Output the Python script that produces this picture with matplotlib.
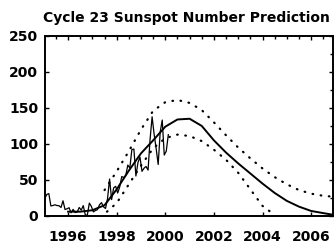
import matplotlib
matplotlib.use("Agg")
import matplotlib.pyplot as plt
from matplotlib.ticker import MultipleLocator

# Observed monthly sunspot numbers, Jan 1995 .. Feb 2000
obs_start = 1995.04
observed = [
    24.2, 29.9, 31.1, 14.0, 14.5, 15.6, 14.5, 14.3, 11.8, 21.1, 9.0, 10.0,
    11.5, 4.4, 9.2, 4.8, 5.5, 11.8, 8.2, 14.4, 1.6, 0.9, 17.9, 13.3,
    5.7, 7.6, 8.7, 15.5, 18.5, 12.7, 10.4, 24.4, 51.3, 22.8, 39.0, 41.2,
    31.9, 40.3, 54.8, 53.4, 56.3, 70.7, 66.6, 92.2, 92.9, 55.5, 74.0, 81.9,
    62.0, 66.3, 68.8, 63.7, 106.4, 137.7, 113.5, 93.7, 71.5, 116.7, 133.2, 84.6,
    90.1, 112.9,
]

# Predicted smoothed sunspot number
pred_years = [1996.0, 1996.5, 1997.0, 1997.5, 1998.0, 1998.5, 1999.0, 1999.5,
              2000.0, 2000.5, 2001.0, 2001.5, 2002.0, 2002.5, 2003.0, 2003.5,
              2004.0, 2004.5, 2005.0, 2005.5, 2006.0, 2006.5, 2006.85]
pred_values = [6, 6, 8, 15, 37, 63, 87, 105, 124, 134, 135, 125, 105, 88,
               73, 59, 45, 32, 21, 13, 7, 4, 2]

# Upper and lower bounds (dotted)
upper_years = [1997.5, 1998.0, 1998.5, 1999.0, 1999.5, 2000.0, 2000.5, 2001.0,
               2001.5, 2002.0, 2002.5, 2003.0, 2003.5, 2004.0, 2004.5, 2005.0,
               2005.5, 2006.0, 2006.5, 2006.85]
upper_values = [36, 62, 90, 120, 146, 158, 161, 157, 147, 130, 112, 95, 80,
                66, 54, 44, 36, 31, 28, 27]
lower_years = [1997.6, 1998.0, 1998.5, 1999.0, 1999.5, 2000.0, 2000.5, 2001.0,
               2001.5, 2002.0, 2002.5, 2003.0, 2003.5, 2004.0, 2004.4]
lower_values = [6, 18, 44, 70, 94, 108, 113, 111, 104, 92, 78, 60, 37, 14, 4]

year_ticks = [1996, 1998, 2000, 2002, 2004, 2006]

obs_years = [obs_start + i / 12 for i in range(len(observed))]

fig = plt.figure(figsize=(3.36, 2.46), dpi=100)
ax = fig.add_axes([0.134, 0.122, 0.857, 0.732])

ax.plot(obs_years, observed, color='black', lw=0.9)
ax.plot(pred_years, pred_values, color='black', lw=1.4)
dot = dict(color='black', lw=1.6, linestyle=(0, (0.3, 3.4)), dash_capstyle='round')
ax.plot(upper_years, upper_values, **dot)
ax.plot(lower_years, lower_values, **dot)

ax.set_xlim(1995.05, 2006.9)
ax.set_ylim(0, 250)
ax.set_xticks(year_ticks)
ax.set_yticks([0, 50, 100, 150, 200, 250])
ax.xaxis.set_minor_locator(MultipleLocator(0.5))
ax.yaxis.set_minor_locator(MultipleLocator(25))
ax.tick_params(which='both', direction='in', top=True, right=True, width=1)
ax.tick_params(which='major', length=3)
ax.tick_params(which='minor', length=2, bottom=False, left=False)
ax.tick_params(axis='x', pad=10)
ax.tick_params(axis='y', pad=5)
for lbl in ax.get_xticklabels() + ax.get_yticklabels():
    lbl.set_fontsize(10)
    lbl.set_fontweight('bold')
for s in ax.spines.values():
    s.set_linewidth(1.4)

fig.text(0.555, 0.925, 'Cycle 23 Sunspot Number Prediction', ha='center', va='center',
         fontsize=10, fontweight='bold')

fig.savefig('out.png', dpi=100)
